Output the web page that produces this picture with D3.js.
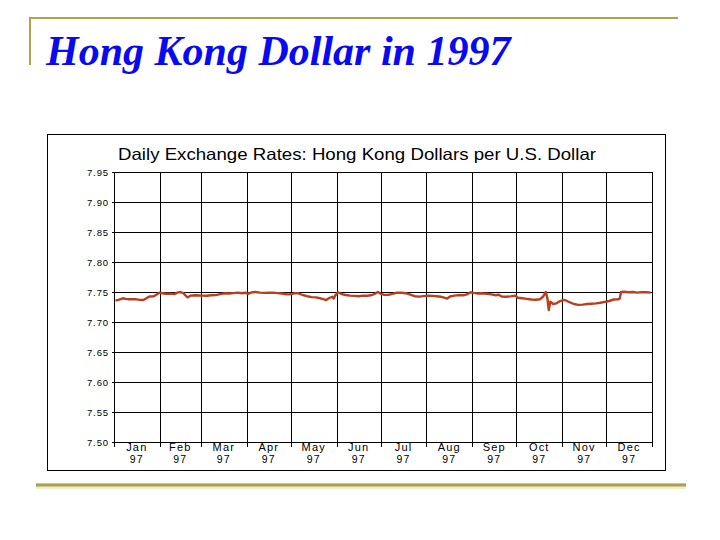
<!DOCTYPE html>
<html><head><meta charset="utf-8">
<script src="https://cdn.jsdelivr.net/npm/d3@7"></script>
<style>body{margin:0;background:#fff}svg{display:block}</style>
</head><body>
<svg id="c" width="720" height="540"></svg>
<script>
// ---- data ----
const slideTitle = "Hong Kong Dollar in 1997";
const chartTitle = "Daily Exchange Rates: Hong Kong Dollars per U.S. Dollar";
const yTicks = [7.50, 7.55, 7.60, 7.65, 7.70, 7.75, 7.80, 7.85, 7.90, 7.95];
const monthLabels = ["Jan","Feb","Mar","Apr","May","Jun","Jul","Aug","Sep","Oct","Nov","Dec"];
const yearLabel = "97";
// day of year (0 = Jan 1 1997)
const dayOfYear = [
  1,3,6,8,10,13,15,17,20,22,24,27,29,
  31,33,35,38,41,43,45,47,49,50,52,55,58,
  60,63,66,69,72,75,78,81,84,87,89,
  91,93,96,99,102,105,108,111,114,117,119,
  121,123,125,128,131,134,137,140,142,144,146,148,149,150,
  152,154,157,160,163,166,169,172,175,177,179,
  181,183,186,189,192,195,198,201,204,207,210,
  213,216,219,222,224,226,228,231,234,237,240,242,
  244,247,250,253,256,259,261,263,266,269,272,
  274,277,280,283,286,289,291,293,294,295,296,298,300,302,
  305,307,309,312,315,318,321,324,327,330,333,
  336,339,342,343,344,346,349,352,355,358,361,364
];
const hkdPerUsd = [
  7.7355,7.7370,7.7395,7.7385,7.7380,7.7382,7.7378,7.7372,7.7367,7.7395,7.7425,7.7430,7.7460,
  7.7490,7.7480,7.7470,7.7472,7.7465,7.7490,7.7500,7.7480,7.7430,7.7410,7.7440,7.7445,7.7442,
  7.7440,7.7438,7.7445,7.7448,7.7465,7.7478,7.7475,7.7482,7.7490,7.7480,7.7488,
  7.7470,7.7492,7.7500,7.7490,7.7485,7.7488,7.7490,7.7482,7.7475,7.7462,7.7460,
  7.7470,7.7482,7.7478,7.7450,7.7430,7.7415,7.7410,7.7395,7.7380,7.7367,7.7400,7.7420,7.7390,7.7440,
  7.7495,7.7470,7.7450,7.7440,7.7435,7.7430,7.7440,7.7438,7.7450,7.7470,7.7500,
  7.7470,7.7455,7.7452,7.7470,7.7490,7.7488,7.7480,7.7455,7.7430,7.7422,7.7432,
  7.7440,7.7435,7.7430,7.7420,7.7405,7.7390,7.7425,7.7440,7.7448,7.7445,7.7465,7.7495,
  7.7485,7.7475,7.7478,7.7470,7.7460,7.7445,7.7455,7.7425,7.7420,7.7428,7.7440,
  7.7405,7.7395,7.7385,7.7375,7.7370,7.7380,7.7420,7.7500,7.7400,7.7200,7.7340,7.7300,7.7310,7.7340,
  7.7370,7.7355,7.7330,7.7300,7.7285,7.7290,7.7300,7.7305,7.7310,7.7320,7.7335,
  7.7350,7.7375,7.7380,7.7385,7.7500,7.7505,7.7495,7.7500,7.7490,7.7498,7.7495,7.7490
];

// ---- drawing ----
const svg = d3.select("#c");
const gold = "#b3a24c";

// slide decoration
svg.append("line").attr("x1",30).attr("x2",678).attr("y1",18).attr("y2",18)
  .attr("stroke",gold).attr("stroke-width",2);
svg.append("line").attr("x1",30).attr("x2",30).attr("y1",17).attr("y2",65)
  .attr("stroke",gold).attr("stroke-width",2);
svg.append("line").attr("x1",36).attr("x2",686).attr("y1",486).attr("y2",486)
  .attr("stroke","#f2efc8").attr("stroke-width",6);
svg.append("line").attr("x1",36).attr("x2",686).attr("y1",485).attr("y2",485)
  .attr("stroke","#a9a052").attr("stroke-width",3);

svg.append("text").attr("x",46).attr("y",65).text(slideTitle)
  .attr("font-family","'Liberation Serif','Times New Roman',serif")
  .attr("font-style","italic").attr("font-weight","bold")
  .attr("font-size",42).attr("fill","#0a0af0");

// chart frame
svg.append("rect").attr("x",47.5).attr("y",134.5).attr("width",618).attr("height",336)
  .attr("fill","#fff").attr("stroke","#000").attr("stroke-width",1);

svg.append("text").attr("x",118).attr("y",160).text(chartTitle)
  .attr("font-family","'Liberation Sans',Arial,sans-serif")
  .attr("font-size",16.5).attr("textLength",478).attr("lengthAdjust","spacingAndGlyphs")
  .attr("fill","#000");

const pLeft = 114, pRight = 652, pTop = 172, pBottom = 442;
const t0 = new Date(1997,0,1), t1 = new Date(1998,0,1);
const x = d3.scaleTime().domain([t0,t1]).range([pLeft,pRight]);
const y = d3.scaleLinear().domain([7.50,7.95]).range([pBottom,pTop]);

const g = svg.append("g");
// horizontal grid + y labels
g.selectAll("line.h").data(yTicks).join("line")
  .attr("x1",pLeft-2).attr("x2",pRight).attr("y1",d=>Math.round(y(d))+0.5).attr("y2",d=>Math.round(y(d))+0.5)
  .attr("stroke","#000").attr("stroke-width",1);
g.selectAll("text.yl").data(yTicks).join("text")
  .attr("x",109).attr("y",d=>y(d)+3.5).attr("text-anchor","end")
  .attr("font-family","'Liberation Sans',Arial,sans-serif").attr("font-size",9.5)
  .attr("letter-spacing",0.9).attr("fill","#000").text(d=>d.toFixed(2));

// vertical grid at month starts
const monthStarts = d3.timeMonth.range(t0, d3.timeDay.offset(t1,1));
g.selectAll("line.v").data(monthStarts).join("line")
  .attr("x1",d=>Math.round(x(d))+0.5).attr("x2",d=>Math.round(x(d))+0.5)
  .attr("y1",pTop).attr("y2",pBottom+5)
  .attr("stroke","#000").attr("stroke-width",1);

// month labels
const mids = monthStarts.slice(0,12).map((d,i)=>({d, label: monthLabels[i],
  cx: (x(d)+x(d3.timeMonth.offset(d,1)))/2}));
const lab = g.selectAll("g.ml").data(mids).join("g");
lab.append("text").attr("x",d=>d.cx).attr("y",451).attr("text-anchor","middle")
  .attr("font-family","'Liberation Sans',Arial,sans-serif").attr("font-size",11)
  .attr("letter-spacing",1.2).text(d=>d.label);
lab.append("text").attr("x",d=>d.cx).attr("y",463).attr("text-anchor","middle")
  .attr("font-family","'Liberation Sans',Arial,sans-serif").attr("font-size",10.5)
  .attr("letter-spacing",1.2).text(yearLabel);

// series
const pts = dayOfYear.map((d,i)=>({date: d3.timeDay.offset(t0,d), v: hkdPerUsd[i]}));
const line = d3.line().x(d=>x(d.date)).y(d=>y(d.v));
svg.append("path").datum(pts).attr("d",line).attr("fill","none")
  .attr("stroke","#b8401f").attr("stroke-width",2.4).attr("stroke-linejoin","round");
</script>
</body></html>
